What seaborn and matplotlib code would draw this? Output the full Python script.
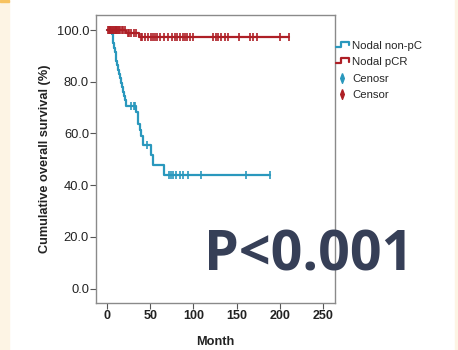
import numpy as np
import pandas as pd
import seaborn as sns
import matplotlib.pyplot as plt
from matplotlib.lines import Line2D
from matplotlib.legend_handler import HandlerBase
from matplotlib.patches import Rectangle

# Kaplan-Meier step points (month, survival %)
blue_time = [0, 5.5, 6.5, 7.5, 8.5, 9.2, 10, 10.8, 12, 13, 14.2, 15, 16.2, 17.5,
             18.5, 19.5, 20.8, 22.5, 33.5, 35.5, 36.5, 38, 39.5, 42, 51.5, 53.5,
             65.5, 189]
blue_surv = [100, 98.3, 96.6, 94.9, 93.2, 91.5, 89.8, 88.1, 86.4, 84.7, 83.0,
             81.3, 79.6, 77.9, 76.2, 74.5, 72.8, 70.6, 68.3, 66.0, 63.7, 61.4,
             59.0, 55.5, 51.6, 47.8, 43.9, 43.9]
blue_censor = [28, 31, 33, 46, 72, 74.5, 77, 80, 84, 88.5, 94, 109, 161, 189]

red_time = [0, 22.5, 37.5, 211]
red_surv = [100, 99.0, 97.3, 97.3]
red_censor = [1, 2, 3, 4, 5, 6, 7, 8, 9, 10, 11, 12, 13, 14, 15, 17, 19, 21,
              24, 26, 28, 31, 34, 39, 41, 44, 47.8, 50.6, 53.6, 55.6, 58.3,
              61.3, 66, 70.9, 74.9, 78.7, 81.4, 84.5, 87.6, 90.3, 93, 96.1,
              100, 123, 125.8, 128.8, 131.6, 136.6, 140.5, 153.2, 165.5,
              168.6, 173.3, 200.2, 211]

group_labels = ["Nodal non-pC", "Nodal pCR"]
censor_labels = ["Cenosr", "Censor"]
x_ticks = [0, 50, 100, 150, 200, 250]
y_ticks = [0, 20, 40, 60, 80, 100]

BLUE = "#2a98bd"
RED = "#ae1f26"
THIN_DIAMOND = [(0, 1), (0.38, 0), (0, -1), (-0.38, 0), (0, 1)]


def surv_at(times, surv, pts):
    # value of the step curve at each censor time
    idx = np.searchsorted(times, pts, side="right") - 1
    return np.asarray(surv)[idx]


class StepHandler(HandlerBase):
    def create_artists(self, legend, orig_handle, xdescent, ydescent,
                       width, height, fontsize, trans):
        x = np.array([0, 0.4, 0.4, 1.0, 1.0]) * width - xdescent
        y = np.array([0.3, 0.3, 0.85, 0.85, 0.45]) * height - ydescent
        ln = Line2D(x, y, color=orig_handle.get_color(), lw=1.6)
        ln.set_transform(trans)
        return [ln]


sns.set_style("white")
plt.rcParams["font.family"] = ["Liberation Sans", "DejaVu Sans"]

fig = plt.figure(figsize=(4.58, 3.5), dpi=100)
fig.patch.set_facecolor("white")
# cream side bands of the slide
fig.patches.append(Rectangle((0, 0), 8.7 / 458, 1, transform=fig.transFigure,
                             color="#fdf4e4", zorder=0))
fig.patches.append(Rectangle((455 / 458, 0), 3 / 458, 1, transform=fig.transFigure,
                             color="#fdf4e4", zorder=0))
fig.patches.append(Rectangle((0, 1 - 2 / 350), 8.7 / 458, 2 / 350,
                             transform=fig.transFigure, color="#f7c260", zorder=0))

ax = fig.add_axes([96 / 458, 47.3 / 350, 239 / 458, 287.7 / 350])

blue_df = pd.DataFrame({"month": blue_time, "surv": blue_surv})
red_df = pd.DataFrame({"month": red_time, "surv": red_surv})
sns.lineplot(data=blue_df, x="month", y="surv", drawstyle="steps-post",
             color=BLUE, lw=1.6, estimator=None, sort=False, ax=ax)
sns.lineplot(data=red_df, x="month", y="surv", drawstyle="steps-post",
             color=RED, lw=1.6, estimator=None, sort=False, ax=ax)

ax.plot(blue_censor, surv_at(blue_time, blue_surv, blue_censor), ls="none",
        marker="|", ms=6, mew=1.2, color=BLUE)
ax.plot(red_censor, surv_at(red_time, red_surv, red_censor), ls="none",
        marker="|", ms=6, mew=1.2, color=RED)

ax.set_xlim(-12.7, 264)
ax.set_ylim(-5.4, 105.8)
ax.set_xticks(x_ticks)
ax.set_xticklabels([str(v) for v in x_ticks], fontweight="bold", fontsize=9)
ax.set_yticks(y_ticks)
ax.set_yticklabels([f"{v:.1f}" for v in y_ticks], fontsize=9.3)
ax.tick_params(axis="both", direction="out", length=4, width=0.8,
               color="#555555", labelcolor="#222222", pad=1,
               bottom=True, left=True)
for sp in ax.spines.values():
    sp.set_color("#8a8a8a")
    sp.set_linewidth(1.0)

ax.set_xlabel("Month", fontweight="bold", fontsize=9.2, color="#222222", labelpad=10)
ax.set_ylabel("Cumulative overall survival (%)", fontweight="bold", fontsize=9.2,
              color="#222222", labelpad=4)

handles = [Line2D([], [], color=BLUE), Line2D([], [], color=RED),
           Line2D([], [], ls="none", marker=THIN_DIAMOND, ms=7, color=BLUE),
           Line2D([], [], ls="none", marker=THIN_DIAMOND, ms=7, color=RED)]
fig.legend(handles, group_labels + censor_labels, loc="upper left",
           bbox_to_anchor=(336 / 458, 1 - 41 / 350), frameon=False,
           fontsize=8.2, handlelength=1.1, handletextpad=0.3, labelspacing=0.55,
           borderpad=0, borderaxespad=0,
           handler_map={handles[0]: StepHandler(), handles[1]: StepHandler()})

fig.text(309 / 458, 1 - 256 / 350, "P<0.001", fontsize=40, fontweight="bold",
         color="#363f57", ha="center", va="center",
         family=["Open Sans", "DejaVu Sans"])

fig.savefig("out.png", dpi=100)
